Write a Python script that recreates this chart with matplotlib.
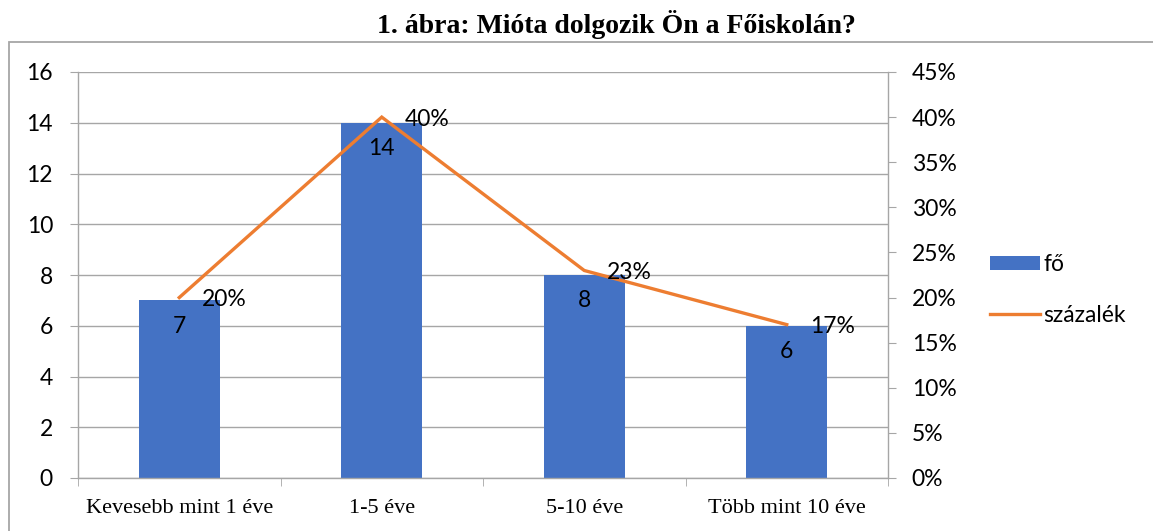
import matplotlib
matplotlib.use("Agg")
import matplotlib.pyplot as plt
from matplotlib.patches import Rectangle
from matplotlib.ticker import FuncFormatter, MultipleLocator, FixedLocator

categories = ["Kevesebb mint 1 éve", "1-5 éve", "5-10 éve", "Több mint 10 éve"]
counts = [7, 14, 8, 6]
percents = [20, 40, 23, 17]
title = "1. ábra: Mióta dolgozik Ön a Főiskolán?"

BAR = "#4472C4"
LINE = "#ED7D31"
GRID = "#A6A6A6"
SANS = ["Lato", "DejaVu Sans"]
SERIF = ["Liberation Serif", "DejaVu Serif"]

fig = plt.figure(figsize=(11.53, 5.31), dpi=100)
fig.patch.set_facecolor("white")

# outer border
fig.add_artist(Rectangle((9 / 1153, -0.05), 1.2, (531 - 42) / 531 + 0.05,
                         transform=fig.transFigure, fill=False,
                         edgecolor="#A6A6A6", linewidth=1.3))

fig.text(0.535, 0.953, title, ha="center", va="center", fontsize=20,
         fontweight="bold", family=SERIF)

ax = fig.add_axes([78 / 1153, 53 / 531, (888 - 78) / 1153, (478 - 72) / 531])
x = list(range(len(categories)))
ax.bar(x, counts, width=0.4, color=BAR, zorder=2, label="fő")
ax.set_xlim(-0.5, len(categories) - 0.5)
ax.set_ylim(0, 16)
ax.yaxis.set_major_locator(MultipleLocator(2))
ax.grid(axis="y", color=GRID, linewidth=1.0, zorder=0)
ax.set_axisbelow(True)
for s in ["top", "right"]:
    ax.spines[s].set_visible(False)
for s in ["left", "bottom"]:
    ax.spines[s].set_color(GRID)
    ax.spines[s].set_linewidth(1.0)
ax.tick_params(axis="y", length=6, color=GRID, pad=12, labelsize=16.5)
ax.set_xticks(x)
ax.set_xticklabels(categories, family=SERIF, fontsize=16)
ax.tick_params(axis="x", which="major", length=0, pad=15)
ax.xaxis.set_minor_locator(FixedLocator([i - 0.5 for i in range(len(categories) + 1)]))
ax.tick_params(axis="x", which="minor", length=6, color=GRID)
for lab in ax.get_yticklabels():
    lab.set_family(SANS)

for i, v in zip(x, counts):
    ax.annotate(str(v), (i, v), xytext=(0, -11), textcoords="offset points",
                ha="center", va="top", fontsize=16.5, family=SANS, zorder=5)

ax2 = ax.twinx()
ax2.plot(x, [p / 100 for p in percents], color=LINE, linewidth=2.4,
         solid_joinstyle="miter", label="százalék", zorder=3)
ax2.set_ylim(0, 0.45)
ax2.yaxis.set_major_locator(MultipleLocator(0.05))
ax2.yaxis.set_major_formatter(FuncFormatter(lambda v, p: f"{round(v * 100)}%"))
for s in ["top", "left", "bottom"]:
    ax2.spines[s].set_visible(False)
ax2.spines["right"].set_color(GRID)
ax2.spines["right"].set_linewidth(1.0)
ax2.tick_params(axis="y", length=6, color=GRID, pad=11, labelsize=16.5)
for lab in ax2.get_yticklabels():
    lab.set_family(SANS)

for i, p in zip(x, percents):
    ax2.annotate(f"{p}%", (i, p / 100), xytext=(16.5, -1.5), textcoords="offset points",
                 ha="left", va="center", fontsize=16.5, family=SANS, zorder=6)

h1, l1 = ax.get_legend_handles_labels()
h2, l2 = ax2.get_legend_handles_labels()
leg = fig.legend(h1 + h2, l1 + l2, loc="center left",
                 bbox_to_anchor=(969 / 1153, (531 - 290) / 531), frameon=False,
                 prop={"family": SANS, "size": 16.5}, handlelength=2.2,
                 handleheight=0.55, handletextpad=0.15, labelspacing=1.3)

fig.savefig("out.png", dpi=100, facecolor="white")
